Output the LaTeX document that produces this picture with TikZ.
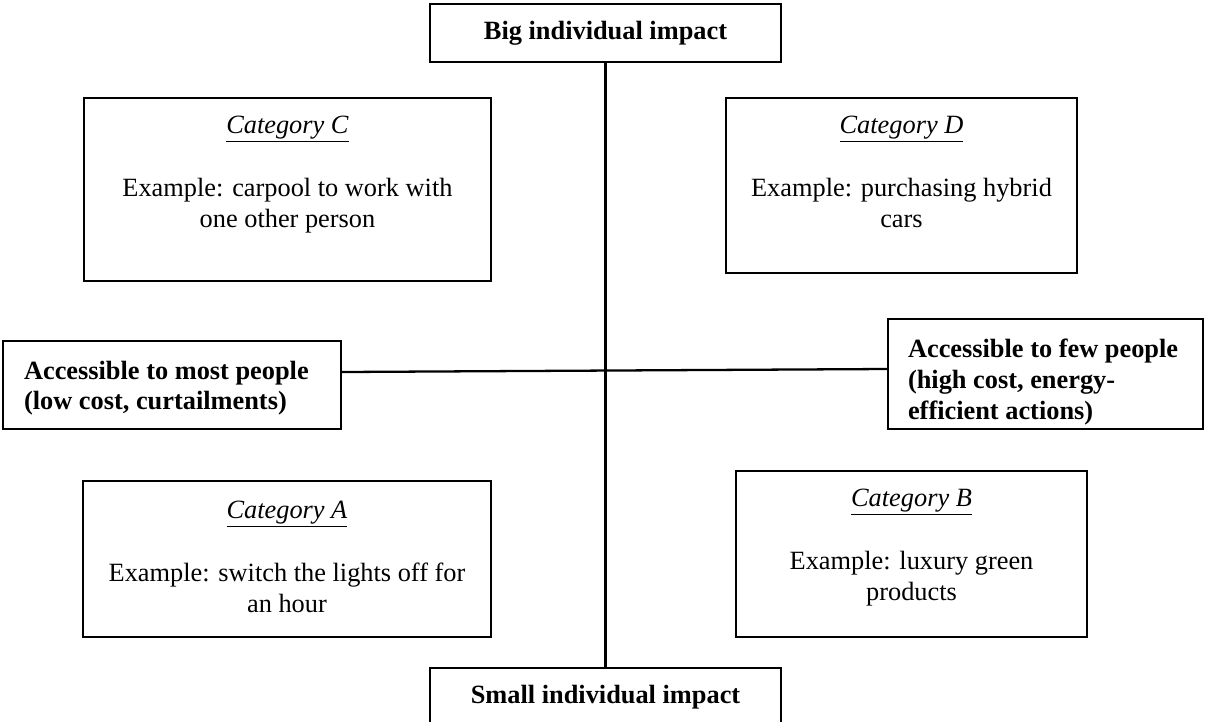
\documentclass[tikz,border=0pt]{standalone}
\usepackage{fontspec}
\setmainfont{Liberation Serif}
\usetikzlibrary{positioning}

\begin{document}
\begin{tikzpicture}[x=0.02cm, y=-0.02cm, line width=1.3pt,
    font=\fontsize{15}{17.5}\selectfont,
    axisbox/.style={draw, inner sep=0pt, font=\fontsize{15}{17.5}\selectfont\bfseries},
    catbox/.style={draw, inner sep=0pt},
    cattext/.style={align=center, inner sep=0pt}]
    \useasboundingbox (0,0) rectangle (1205,721);
    % Axis ends
    \node[axisbox, minimum width=7.02cm, minimum height=1.16cm] (big) at (605.5,33) {Big individual impact};
    \node[axisbox, minimum width=7.02cm, minimum height=1.16cm] (small) at (605.5,697) {Small individual impact};
    \node[axisbox, minimum width=6.76cm, minimum height=1.76cm, text width=5.92cm, inner xsep=0.42cm, align=flush left] (most) at (172,385)
        {\rule{0pt}{14pt}Accessible to most people\\(low cost, curtailments)};
    \node[axisbox, minimum width=6.3cm, minimum height=2.2cm, text width=5.5cm, inner xsep=0.4cm, align=flush left] (few) at (1045.5,374)
        {\rule{0pt}{19.5pt}Accessible to few people\\(high cost, energy-\\efficient actions)};
    % Categories
    \node[catbox, minimum width=8.14cm, minimum height=3.66cm] (catC) at (287.5,189.5) {};
    \node[catbox, minimum width=7.02cm, minimum height=3.5cm] (catD) at (901.5,185.5) {};
    \node[catbox, minimum width=8.16cm, minimum height=3.12cm] (catA) at (287,559) {};
    \node[catbox, minimum width=7.02cm, minimum height=3.32cm] (catB) at (911.5,554) {};
    \node[cattext, below=0.36cm of catC.north] (txtC)
        {\underline{\textit{Category C}}\\[18.5pt]Example: carpool to work with\\one other person};
    \node[cattext, below=0.36cm of catD.north] (txtD)
        {\underline{\textit{Category D}}\\[18.5pt]Example: purchasing hybrid\\cars};
    \node[cattext, below=0.4cm of catA.north] (txtA)
        {\underline{\textit{Category A}}\\[18.5pt]Example: switch the lights off for\\an hour};
    \node[cattext, below=0.36cm of catB.north] (txtB)
        {\underline{\textit{Category B}}\\[18.5pt]Example: luxury green\\products};
    % Axes
    \draw (big) -- (small);
    \draw ([yshift=0.26cm]most.east) -- ([yshift=0.1cm]few.west);
\end{tikzpicture}
\end{document}
